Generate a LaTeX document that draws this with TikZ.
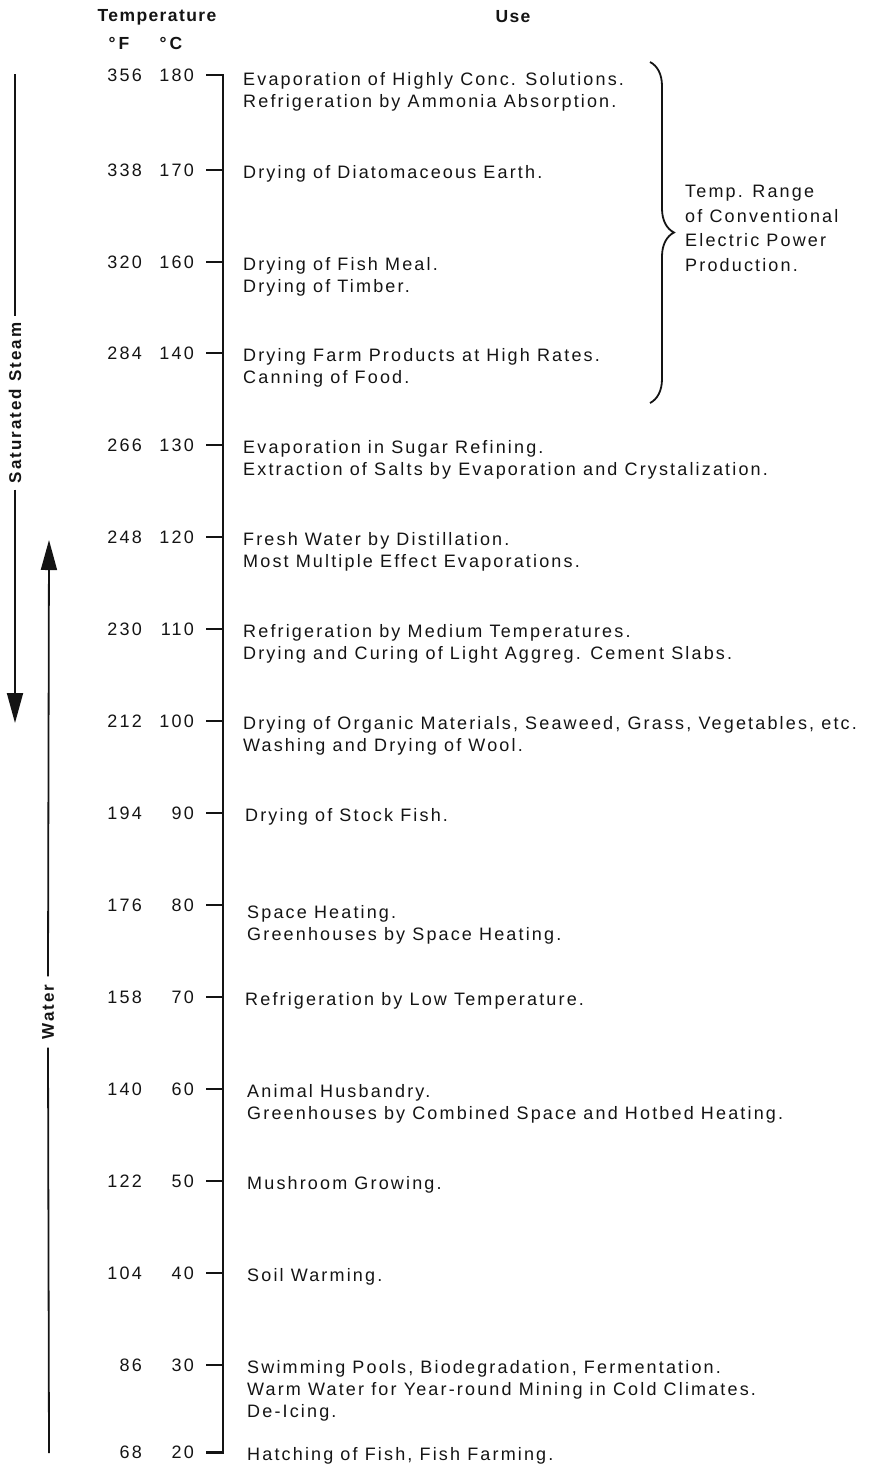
\documentclass[tikz,border=0pt]{standalone}
\usepackage{fontspec}
\setmainfont{Liberation Sans}[LetterSpace=12]
\usetikzlibrary{arrows.meta,decorations.pathreplacing}
\definecolor{ink}{HTML}{141414}
\tikzset{
  usetext/.style={anchor=north west,align=left,inner sep=0pt,text=ink,yshift=-1pt,
    font=\fontsize{18}{22}\selectfont},
  tempnum/.style={anchor=east,inner sep=0pt,text=ink,font=\fontsize{18}{22}\selectfont},
  headtext/.style={inner sep=0pt,text=ink,
    font=\fontsize{17.5}{22}\selectfont\bfseries\addfontfeature{LetterSpace=8}},
  scaleline/.style={draw=ink,line width=1.8pt},
  phase/.style={-{Triangle[length=30pt,width=16pt]},draw=ink,line width=1.8pt},
  phaselabel/.style={rotate=90,inner sep=0pt,text=ink,font=\fontsize{17}{22}\selectfont\bfseries},
  rangetext/.style={anchor=north west,align=left,inner sep=0pt,text=ink,
    font=\fontsize{18}{24.5}\selectfont},
}
\begin{document}
\begin{tikzpicture}[x=1pt,y=-1pt]
\useasboundingbox (0,0) rectangle (880,1468);
% headings
\node[headtext] (temphead) at (157,17) {Temperature};
\node[headtext] (fhead) at (119,43) {°\,F};
\node[headtext] (chead) at (171,43) {°\,C};
\node[headtext] (usehead) at (513,17) {Use};
% temperature scale
\coordinate (top) at (223,75);\coordinate (bottom) at (223,1453);
\draw[scaleline] (206,75) -- (top) -- (bottom) -- (206,1453);
\foreach \yy/\fv/\cv in {75/356/180,170/338/170,262/320/160,353/284/140,445/266/130,
  537/248/120,629/230/110,721/212/100,813/194/90,905/176/80,997/158/70,
  1089/140/60,1181/122/50,1273/104/40,1365/86/30,1452/68/20}{
  \node[tempnum] (f\cv) at (142,\yy) {\fv};
  \node[tempnum] (c\cv) at (194,\yy) {\cv};
  \draw[scaleline] (206,\yy) -- (223,\yy);
}
% uses
\node[usetext] (u180) at (243,71) {Evaporation of Highly Conc. Solutions.\\Refrigeration by Ammonia Absorption.};
\node[usetext] (u170) at (243,164) {Drying of Diatomaceous Earth.};
\node[usetext] (u160) at (243,256) {Drying of Fish Meal.\\Drying of Timber.};
\node[usetext] (u140) at (243,347) {Drying Farm Products at High Rates.\\Canning of Food.};
\node[usetext] (u130) at (243,439) {Evaporation in Sugar Refining.\\Extraction of Salts by Evaporation and Crystalization.};
\node[usetext] (u120) at (243,531) {Fresh Water by Distillation.\\Most Multiple Effect Evaporations.};
\node[usetext] (u110) at (243,623) {Refrigeration by Medium Temperatures.\\Drying and Curing of Light Aggreg. Cement Slabs.};
\node[usetext] (u100) at (243,715) {Drying of Organic Materials, Seaweed, Grass, Vegetables, etc.\\Washing and Drying of Wool.};
\node[usetext] (u90) at (245,807) {Drying of Stock Fish.};
\node[usetext] (u80) at (247,904) {Space Heating.\\Greenhouses by Space Heating.};
\node[usetext] (u70) at (245,991) {Refrigeration by Low Temperature.};
\node[usetext] (u60) at (247,1083) {Animal Husbandry.\\Greenhouses by Combined Space and Hotbed Heating.};
\node[usetext] (u50) at (247,1175) {Mushroom Growing.};
\node[usetext] (u40) at (247,1267) {Soil Warming.};
\node[usetext] (u30) at (247,1359) {Swimming Pools, Biodegradation, Fermentation.\\Warm Water for Year-round Mining in Cold Climates.\\De-Icing.};
\node[usetext] (u20) at (247,1446) {Hatching of Fish, Fish Farming.};
% power range
\coordinate (bracetop) at (650,62);\coordinate (bracebot) at (650,403);
\draw[scaleline,decorate,decoration={brace,amplitude=24pt}] (bracetop) -- (bracebot);
\node[rangetext] (power) at (685,185) {Temp. Range\\of Conventional\\Electric Power\\Production.};
% steam and water
\coordinate (steamtop) at (15,74);\coordinate (steamtip) at (15,723);
\node[phaselabel] (steam) at (15,403) {Saturated Steam};
\draw[scaleline] (steamtop) -- ([yshift=6pt]steam.east);
\draw[phase] ([yshift=-6pt]steam.west) -- (steamtip);
\coordinate (waterbot) at (49,1453);\coordinate (watertip) at (49,540);
\node[phaselabel] (water) at (48,1012) {Water};
\draw[scaleline] (waterbot) -- ([yshift=-8pt]water.west);
\draw[phase] ([yshift=8pt]water.east) -- (watertip);
\end{tikzpicture}
\end{document}
